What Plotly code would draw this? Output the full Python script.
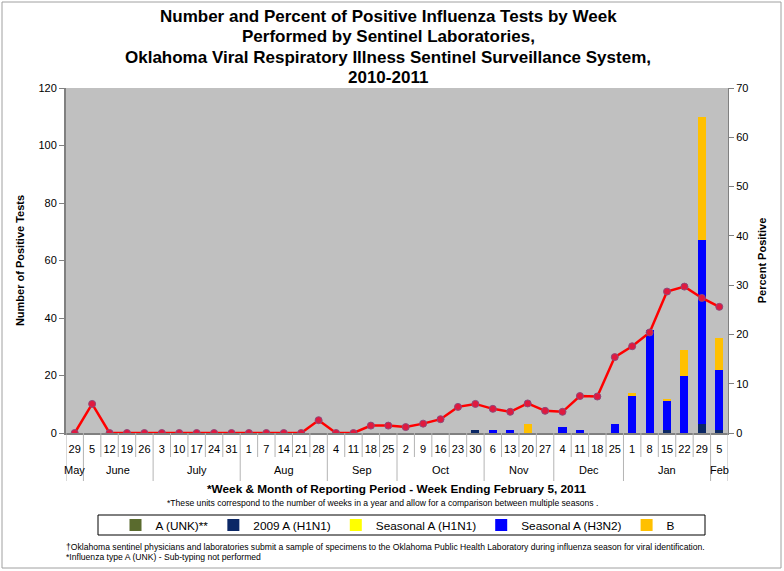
import plotly.graph_objects as go
from plotly.subplots import make_subplots

months = ["May", "June", "June", "June", "June", "July", "July", "July", "July", "July",
          "Aug", "Aug", "Aug", "Aug", "Aug", "Sep", "Sep", "Sep", "Sep",
          "Oct", "Oct", "Oct", "Oct", "Oct", "Nov", "Nov", "Nov", "Nov",
          "Dec", "Dec", "Dec", "Dec", "Jan", "Jan", "Jan", "Jan", "Jan", "Feb"]
weeks = ["29", "5", "12", "19", "26", "3", "10", "17", "24", "31",
         "1", "7", "14", "21", "28", "4", "11", "18", "25",
         "2", "9", "16", "23", "30", "6", "13", "20", "27",
         "4", "11", "18", "25", "1", "8", "15", "22", "29", "5"]

a_unk = [0] * 38
h1n1_2009 = [0, 0, 0, 0, 0, 0, 0, 0, 0, 0, 0, 0, 0, 0, 0, 0, 0, 0, 0,
             0, 0, 0, 0, 1, 0, 0, 0, 0, 0, 0, 0, 0, 0, 0, 1, 0, 3, 1]
seasonal_h1n1 = [0] * 38
seasonal_h3n2 = [0, 0, 0, 0, 0, 0, 0, 0, 0, 0, 0, 0, 0, 0, 0, 0, 0, 0, 0,
                 0, 0, 0, 0, 0, 1, 1, 0, 0, 2, 1, 0, 3, 13, 36, 10, 20, 64, 21]
flu_b = [0, 0, 0, 0, 0, 0, 0, 0, 0, 0, 0, 0, 0, 0, 0, 0, 0, 0, 0,
         0, 0, 0, 0, 0, 0, 0, 3, 0, 0, 0, 0, 0, 1, 0, 1, 9, 43, 11]
pct_positive = [0, 5.9, 0, 0, 0, 0, 0, 0, 0, 0, 0, 0, 0, 0, 2.6, 0, 0, 1.5, 1.5,
                1.2, 1.9, 2.8, 5.3, 5.9, 4.9, 4.3, 6.0, 4.5,
                4.3, 7.5, 7.4, 15.4, 17.6, 20.4, 28.7, 29.7, 27.4, 25.6]

series = [
    ("A (UNK)**", a_unk, "#5a6b2e"),
    ("2009 A (H1N1)", h1n1_2009, "#0b2766"),
    ("Seasonal A (H1N1)", seasonal_h1n1, "#ffff00"),
    ("Seasonal A (H3N2)", seasonal_h3n2, "#0000ff"),
    ("B", flu_b, "#ffc000"),
]

W, H = 784, 571
L, R, T, B = 66, 56, 88, 138
PW, PH = W - L - R, H - T - B


def py(ypix):
    return (H - B - ypix) / PH


def px(xpix):
    return (xpix - L) / PW


def note(text, xpix, ypix, size, xanchor="center"):
    fig.add_annotation(text=text, xref="paper", yref="paper", x=px(xpix), y=py(ypix),
                       xanchor=xanchor, yanchor="middle", showarrow=False,
                       font=dict(size=size, color="black"))


idx = list(range(len(weeks)))
fig = make_subplots(specs=[[{"secondary_y": True}]])
for name, vals, col in series:
    fig.add_trace(go.Bar(x=idx, y=vals, name=name, marker=dict(color=col, line=dict(width=0))),
                  secondary_y=False)

fig.add_trace(go.Scatter(x=idx, y=pct_positive, mode="lines+markers", showlegend=False,
                         line=dict(color="#ff0000", width=2.5),
                         marker=dict(size=7, color="#e0193f", line=dict(color="#8e4a7a", width=1))),
              secondary_y=True)

font_main = "Liberation Sans, Arial, sans-serif"

fig.update_layout(
    width=W, height=H,
    barmode="stack", bargap=0.54,
    paper_bgcolor="white", plot_bgcolor="#c0c0c0",
    margin=dict(l=L, r=R, t=T, b=B, autoexpand=False),
    font=dict(family=font_main, size=11, color="black"),
    legend=dict(orientation="h", x=px(398), xanchor="center", y=py(525), yanchor="middle",
                borderwidth=0, bgcolor="rgba(0,0,0,0)",
                font=dict(family=font_main, size=11.8), traceorder="normal",
                itemclick=False),
)

fig.update_xaxes(domain=[0, 1], range=[-0.5, len(weeks) - 0.5], tickmode="array", tickvals=idx,
                 ticktext=weeks, showline=True, linecolor="#808080", linewidth=2, automargin=False,
                 ticks="outside", ticklen=5, tickcolor="rgba(0,0,0,0)", showgrid=False,
                 zeroline=False, tickfont=dict(size=11))
fig.update_yaxes(range=[0, 120], dtick=20, showgrid=False, showline=True, linecolor="#808080",
                 linewidth=2, ticks="outside", ticklen=5, tickcolor="#808080", zeroline=False,
                 automargin=False,
                 title=dict(text="<b>Number of Positive Tests</b>", font=dict(size=11), standoff=12),
                 secondary_y=False)
fig.update_yaxes(range=[0, 70], dtick=10, showgrid=False, showline=True, linecolor="#808080",
                 linewidth=1, ticks="outside", ticklen=5, tickcolor="#808080", zeroline=False,
                 automargin=False,
                 title=dict(text="<b>Percent Positive</b>", font=dict(size=11), standoff=10),
                 secondary_y=True)

# category boundary lines below the axis
for i in range(len(weeks) + 1):
    is_month = i == 0 or i == len(weeks) or months[i] != months[i - 1]
    fig.add_shape(type="line", xref="x", yref="paper", x0=i - 0.5, x1=i - 0.5,
                  y0=0, y1=py(481) if is_month else py(457),
                  line=dict(color="#b4b4b4", width=1))

# month labels centred under each month group
start = 0
for i in range(1, len(months) + 1):
    if i == len(months) or months[i] != months[start]:
        fig.add_annotation(text=months[start], xref="x", yref="paper", x=(start + i - 1) / 2,
                           y=py(470), yanchor="middle", xanchor="center", showarrow=False,
                           font=dict(size=11))
        start = i

title_lines = ["Number and Percent of Positive Influenza Tests by Week",
               "Performed by Sentinel Laboratories,",
               "Oklahoma Viral Respiratory Illness Sentinel Surveillance System,",
               "2010-2011"]
for line, ypix in zip(title_lines, [16, 37, 57, 77]):
    note("<b>" + line + "</b>", 388, ypix, 17)

note("<b>*Week & Month of Reporting Period - Week Ending February 5, 2011</b>", 397, 489, 11.8)
note("*These units correspond to the number of weeks in a year and allow for a comparison between multiple seasons .",
     382, 503, 8.6)
note("†Oklahoma sentinel physicians and laboratories submit a sample of specimens to the Oklahoma Public Health Laboratory during influenza season for viral identification.",
     64, 547, 8.6, xanchor="left")
note("*Influenza type A (UNK) - Sub-typing not performed", 64, 557, 8.6, xanchor="left")

# legend frame
fig.add_shape(type="rect", xref="paper", yref="paper",
              x0=px(98), x1=px(705), y0=py(535), y1=py(515),
              line=dict(color="black", width=1), fillcolor="white", layer="below")
# outer chart frame
fig.add_shape(type="rect", xref="paper", yref="paper",
              x0=px(2), x1=px(781), y0=py(568), y1=py(2),
              line=dict(color="#a0a0a0", width=1), fillcolor="rgba(0,0,0,0)", layer="below")

fig.write_html("out.html", config={"displayModeBar": False},
               post_script="document.body.style.margin='0';")
